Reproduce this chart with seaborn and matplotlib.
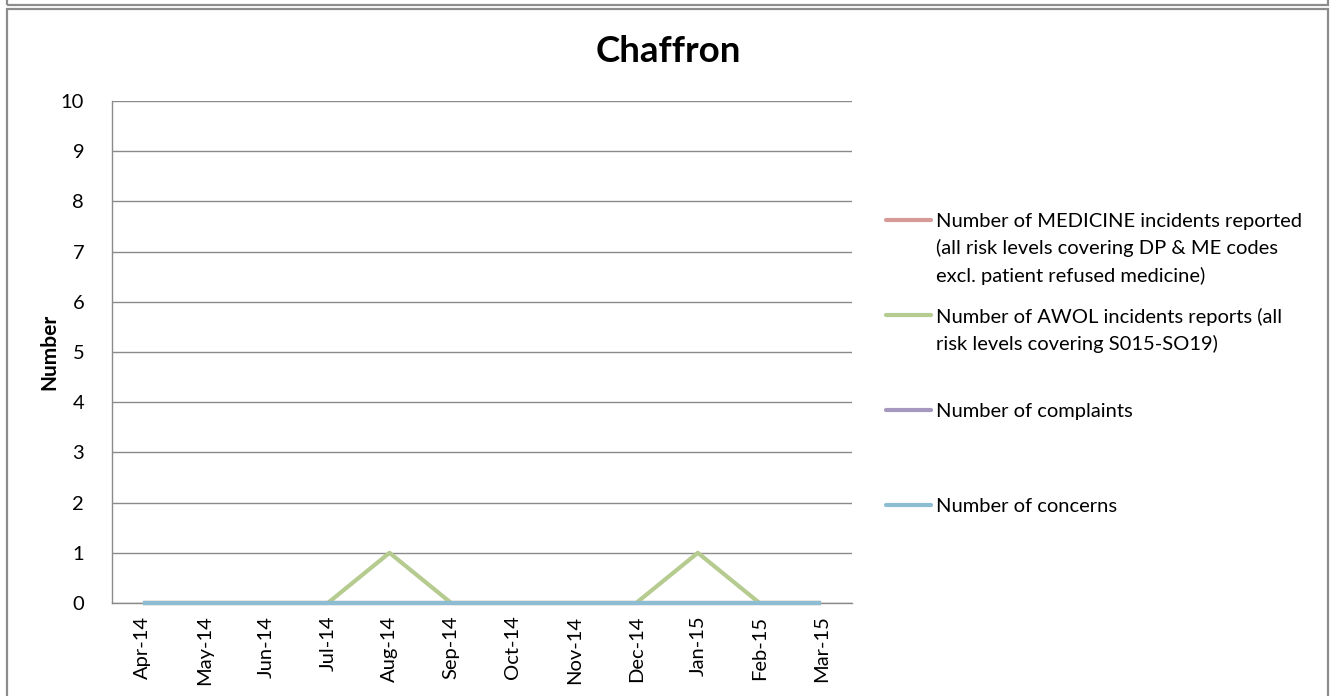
import matplotlib
matplotlib.use("Agg")
import matplotlib.pyplot as plt
from matplotlib.lines import Line2D
from matplotlib.patches import Rectangle
import seaborn as sns
import pandas as pd

# Monthly counts, April 2014 - March 2015
months = ["Apr-14", "May-14", "Jun-14", "Jul-14", "Aug-14", "Sep-14",
          "Oct-14", "Nov-14", "Dec-14", "Jan-15", "Feb-15", "Mar-15"]
medicine = [0, 0, 0, 0, 0, 0, 0, 0, 0, 0, 0, 0]
awol = [0, 0, 0, 0, 1, 0, 0, 0, 0, 1, 0, 0]
complaints = [0, 0, 0, 0, 0, 0, 0, 0, 0, 0, 0, 0]
concerns = [0, 0, 0, 0, 0, 0, 0, 0, 0, 0, 0, 0]

series_names = [
    "Number of MEDICINE incidents reported\n(all risk levels covering DP & ME codes\nexcl. patient refused medicine)",
    "Number of AWOL incidents reports (all\nrisk levels covering S015-SO19)",
    "Number of complaints",
    "Number of concerns",
]
series_values = [medicine, awol, complaints, concerns]
colors = ["#D69A99", "#B6CB8F", "#A597BE", "#8DBDD2"]

title = "Chaffron"
y_label = "Number"
y_ticks = list(range(0, 11))

sns.set_theme(style="white")
plt.rcParams["font.family"] = ["Lato", "DejaVu Sans"]
plt.rcParams["text.color"] = "black"
plt.rcParams["xtick.color"] = "black"
plt.rcParams["ytick.color"] = "black"
plt.rcParams["axes.labelcolor"] = "black"

W, H = 1334, 696
fig = plt.figure(figsize=(W / 100, H / 100), dpi=100)

def fx(px):
    return px / W

def fy(py):
    return 1 - py / H

ax = fig.add_axes([fx(112), fy(603), fx(852) - fx(112), fy(101) - fy(603)])

rows = []
for name, vals in zip(series_names, series_values):
    for i, (m, v) in enumerate(zip(months, vals)):
        rows.append({"idx": i, "month": m, "value": v, "series": name})
df = pd.DataFrame(rows)

sns.lineplot(data=df, x="idx", y="value", hue="series", hue_order=series_names,
             palette=colors, linewidth=3.0, ax=ax, legend=False,
             solid_capstyle="butt", zorder=3)
for ln in ax.get_lines():
    ln.set_clip_on(False)

ax.set_xlim(-0.5, len(months) - 0.5)
ax.set_ylim(0, 10)
ax.set_yticks(y_ticks)
ax.set_yticklabels([str(t) for t in y_ticks], fontsize=14.5)
ax.set_xticks(range(len(months)))
ax.set_xticklabels(months, rotation=90, fontsize=14.5)
ax.tick_params(axis="both", length=0)
ax.tick_params(axis="x", pad=9)
ax.tick_params(axis="y", pad=20)
ax.grid(axis="y", color="#8a8a8a", linewidth=1.0, zorder=0)
ax.set_axisbelow(True)
for s in ["top", "right"]:
    ax.spines[s].set_visible(False)
for s in ["left", "bottom"]:
    ax.spines[s].set_color("#8a8a8a")
    ax.spines[s].set_linewidth(1.0)
ax.set_xlabel("")
ax.set_ylabel(y_label, fontsize=15, fontweight="bold", labelpad=1)

fig.text(fx(668), fy(51), title, fontsize=26.5, fontweight="bold",
         ha="center", va="center")

# Legend entries to the right of the plot
legend_y = [220, 315, 410, 505]
for name, col, ly in zip(series_names, colors, legend_y):
    fig.add_artist(Line2D([fx(886), fx(931)], [fy(ly), fy(ly)], color=col,
                          linewidth=3.0, solid_capstyle="round",
                          transform=fig.transFigure))
    fig.text(fx(936), fy(ly - 7), name, fontsize=14.5, ha="left", va="top",
             linespacing=1.62)

# Surrounding frames
frame_kw = dict(fill=False, edgecolor="#8c8c8c", linewidth=1.6,
                transform=fig.transFigure)
fig.add_artist(Rectangle((fx(7), fy(4.5)), fx(1328) - fx(7), fy(-10) - fy(4.5), **frame_kw))
fig.add_artist(Rectangle((fx(7), fy(710)), fx(1328) - fx(7), fy(9) - fy(710), **frame_kw))

fig.savefig("out.png", dpi=100)
